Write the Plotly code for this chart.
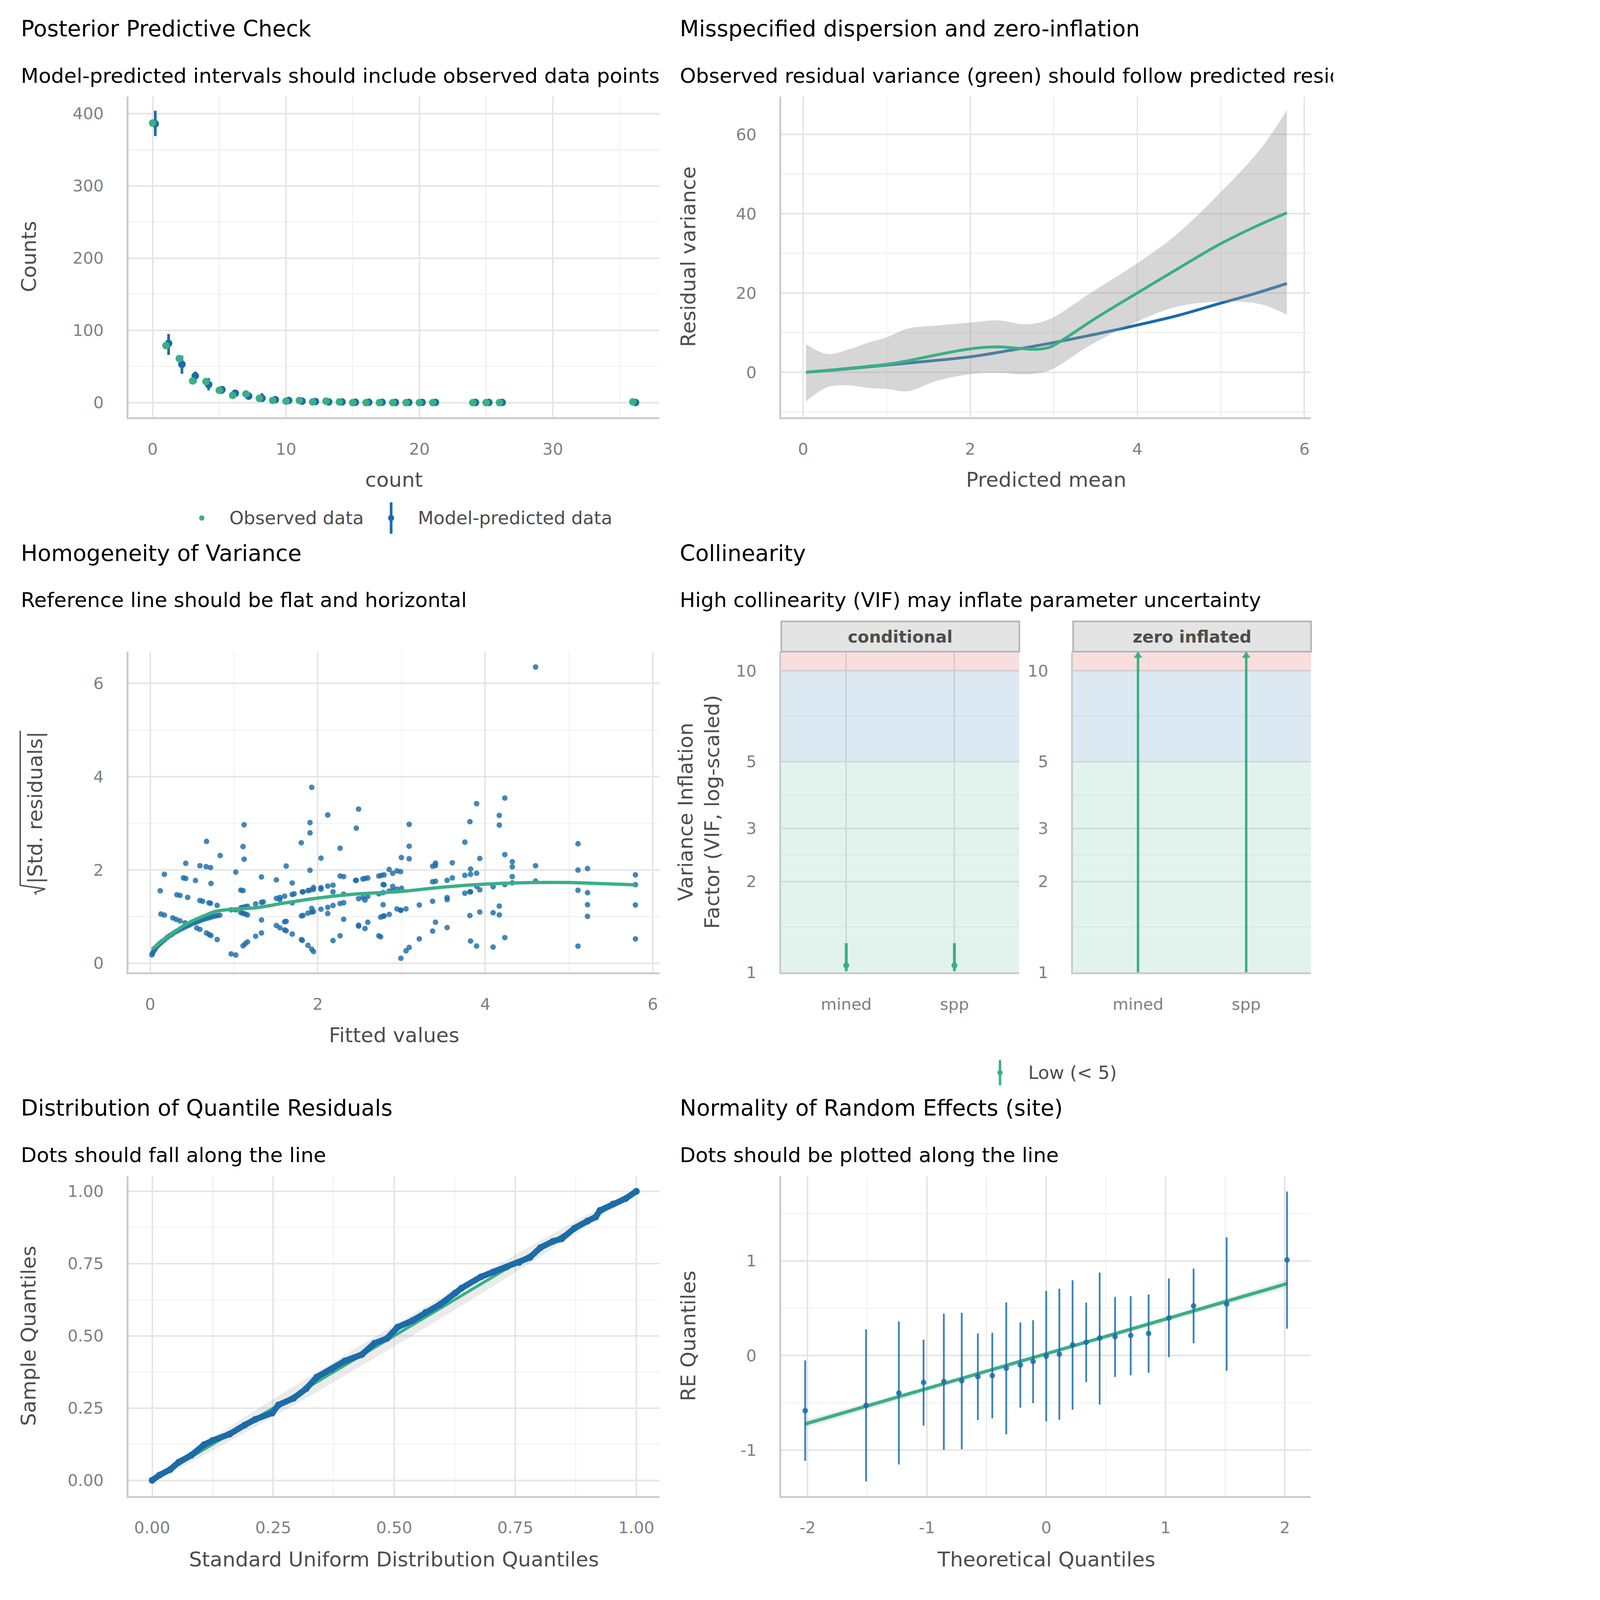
import math
import plotly.graph_objects as go

W, H = 6000, 7200
FONT = "DejaVu Sans"
GREEN = "#3aaf85"
BLUE = "#1b6ca8"

# ---------------- data: posterior predictive check ----------------
count_x = [0, 1, 2, 3, 4, 5, 6, 7, 8, 9, 10, 11, 12, 13, 14, 15, 16, 17, 18, 19, 20, 21, 24, 25, 26, 36]
observed_counts = [387, 79, 61, 30, 29, 17, 10, 12, 6, 3, 2, 3, 1, 2, 1, 0, 0, 0, 0, 0, 0, 0, 0, 0, 0, 1]
predicted_counts = [386, 82, 53, 37, 25, 18, 13, 9, 6, 4, 3, 2, 1.5, 1, 1, 0.5, 0.5, 0.4, 0.3, 0.3, 0.3, 0.3, 0.2, 0.2, 0.2, 0.1]
predicted_lo = [369, 66, 40, 27, 17, 12, 9, 4, 2, 1, 1, 0, 0, 0, 0, 0, 0, 0, 0, 0, 0, 0, 0, 0, 0, 0]
predicted_hi = [404, 95, 65, 43, 34, 22, 16, 13, 13, 7, 5, 4, 3, 3, 2, 1, 1, 1, 1, 1, 1, 1, 1, 1, 1, 1]

# ---------------- data: dispersion ----------------
obs_var_x = [0.035, 0.5, 1.0, 1.2, 1.6, 2.0, 2.32, 2.6, 2.8, 2.95, 3.08, 3.5, 4.0, 4.5, 4.96, 5.4, 5.79]
obs_var_y = [0.0, 0.9, 2.0, 2.66, 4.4, 5.9, 6.4, 6.0, 5.8, 6.3, 7.8, 13.6, 20.0, 26.3, 32.0, 36.6, 40.2]
pred_var_x = [0.035, 0.5, 1.0, 1.5, 2.0, 2.5, 2.93, 3.5, 4.0, 4.5, 4.96, 5.4, 5.79]
pred_var_y = [0.0, 0.8, 1.8, 2.8, 3.9, 5.6, 7.2, 9.6, 11.9, 14.4, 17.2, 19.8, 22.4]
ribbon_x = [0.035, 0.29, 0.54, 0.8, 1.0, 1.25, 1.61, 2.0, 2.32, 2.675, 2.95, 3.44, 4.0, 4.45, 4.96, 5.47, 5.79]
ribbon_hi = [7.1, 4.6, 5.7, 7.6, 8.8, 11.0, 11.8, 12.5, 13.1, 12.1, 13.4, 20.0, 27.5, 34.4, 44.6, 56.2, 66.1]
ribbon_lo = [-7.4, -3.8, -3.3, -4.0, -4.2, -4.8, -2.1, -0.5, -0.1, -0.5, 0.5, 6.9, 12.8, 16.4, 17.8, 17.2, 14.5]

# ---------------- data: homogeneity of variance ----------------
fitted_values = [
    0.02, 0.03, 0.045, 0.06, 0.08, 0.10, 0.12, 0.14, 0.17, 0.20, 0.23, 0.26, 0.29, 0.32, 0.35, 0.38,
    0.41, 0.44, 0.47, 0.50, 0.53, 0.56, 0.59, 0.62, 0.65, 0.68, 0.71, 0.74, 0.77, 0.80, 0.83,
    0.119, 0.169, 0.127, 0.169, 0.269, 0.311, 0.356, 0.318, 0.356, 0.447, 0.396, 0.424, 0.424,
    0.540, 0.593, 0.667, 0.720, 0.672, 0.725, 0.835, 0.593, 0.625, 0.701, 0.720, 0.799, 0.555,
    0.593, 0.672, 0.703, 0.725, 0.799, 0.417,
    0.966, 1.021, 1.021, 0.966, 1.021, 1.121, 1.108, 1.121, 1.081, 1.108, 1.081, 1.106, 1.133,
    1.161, 1.081, 1.106, 1.133, 1.161, 1.108, 1.133, 1.161, 1.258, 1.258, 1.328, 1.328, 1.350,
    1.328, 1.328, 1.506, 1.506, 1.547, 1.547, 1.506, 1.547, 1.604, 1.623, 1.604, 1.623, 1.604,
    1.623, 1.695, 1.695, 1.718, 1.695, 1.695, 1.803, 1.816, 1.824, 1.805, 1.824, 1.805, 1.816,
    1.907, 1.907, 1.928, 1.907, 1.883, 1.907, 1.949, 1.949, 1.928, 1.883, 1.928, 1.949, 1.883,
    1.928, 1.949, 2.038, 2.038, 2.038, 2.038, 2.119, 2.119, 2.119, 2.119, 2.182, 2.182, 2.182,
    2.182, 2.267, 2.267, 2.309, 2.309, 2.267, 2.309, 2.309, 2.267, 2.487, 2.460, 2.451, 2.460,
    2.538, 2.564, 2.597, 2.487, 2.538, 2.564, 2.597, 2.487, 2.487, 2.597, 2.564, 2.729, 2.758,
    2.792, 2.780, 2.792, 2.729, 2.780, 2.780, 2.750, 2.780, 2.792, 2.854, 2.729, 2.750, 2.852,
    2.894, 2.945, 2.894, 2.852, 2.894, 2.945, 2.945, 2.992, 2.992, 2.998, 2.989, 3.091, 3.091,
    3.091, 3.0, 2.989, 3.053, 3.053, 3.091, 3.212, 3.212, 3.371, 3.405, 3.405, 3.371, 3.405,
    3.371, 3.405, 3.371, 3.544, 3.606, 3.606, 3.544, 3.544, 3.544, 3.756, 3.756, 3.756, 3.816,
    3.824, 3.824, 3.816, 3.824, 3.816, 3.824, 3.896, 3.896, 3.896, 3.934, 3.934, 3.934, 3.896,
    4.093, 4.093, 4.093, 4.167, 4.167, 4.233, 4.233, 4.233, 4.167, 4.167, 4.233, 4.322, 4.322,
    4.322, 4.322, 4.600, 4.600, 4.600, 5.106, 5.106, 5.106, 5.106, 5.220, 5.220, 5.220, 5.220,
    5.792, 5.792, 5.792, 5.792,
]
sqrt_std_residuals = [
    0.18, 0.22, 0.27, 0.31, 0.36, 0.40, 0.43, 0.46, 0.50, 0.55, 0.59, 0.62, 0.66, 0.69, 0.72, 0.745,
    0.77, 0.80, 0.82, 0.85, 0.87, 0.89, 0.91, 0.93, 0.95, 0.965, 0.98, 0.995, 1.01, 1.02, 1.03,
    1.554, 1.907, 1.055, 1.032, 0.972, 0.938, 0.908, 1.468, 1.454, 1.411, 1.830, 1.817, 2.143,
    1.774, 2.090, 2.070, 2.050, 2.612, 1.710, 2.309, 1.344, 1.328, 1.295, 1.285, 1.241, 0.755,
    0.725, 0.649, 0.616, 0.592, 0.509, 0.865,
    1.145, 1.145, 1.953, 0.200, 0.176, 2.968, 2.502, 2.230, 1.567, 1.557, 1.188, 1.198, 1.211,
    1.221, 1.085, 1.072, 1.058, 1.035, 0.373, 0.416, 0.456, 1.271, 0.579, 1.850, 1.304, 1.314,
    0.928, 0.649, 1.787, 1.391, 1.411, 1.364, 0.809, 0.759, 1.438, 2.083, 0.889, 0.898, 0.715,
    0.696, 1.720, 1.474, 1.488, 1.295, 0.626, 2.582, 1.531, 1.531, 1.015, 1.025, 0.506, 0.489,
    3.015, 2.795, 3.770, 1.993, 1.557, 1.567, 1.624, 1.581, 1.175, 1.075, 1.095, 1.108, 0.383,
    0.300, 0.250, 2.253, 1.621, 1.587, 1.158, 3.178, 1.654, 1.198, 1.065, 1.674, 1.531, 1.238,
    0.486, 2.466, 1.870, 1.857, 1.481, 1.281, 1.298, 0.942, 0.589, 3.304, 2.895, 1.774, 1.780,
    1.807, 1.817, 1.827, 1.384, 1.408, 1.354, 1.434, 0.815, 0.795, 0.879, 0.745, 1.870, 1.883,
    1.894, 1.687, 1.681, 1.488, 1.514, 1.255, 0.988, 1.008, 1.015, 1.048, 0.589, 0.566, 2.010,
    1.927, 1.980, 1.647, 1.547, 1.554, 1.587, 1.165, 1.135, 0.106, 2.266, 1.963, 2.978, 2.509,
    2.240, 1.607, 1.138, 1.165, 0.266, 0.339, 1.248, 0.522, 2.080, 2.146, 2.093, 1.747, 1.757,
    1.328, 0.879, 0.689, 1.777, 1.830, 2.153, 1.408, 1.364, 0.765, 2.596, 1.884, 1.501, 3.035,
    2.020, 1.907, 1.531, 1.531, 1.022, 0.476, 3.421, 1.930, 1.647, 2.246, 1.574, 1.098, 0.369,
    1.641, 1.082, 0.346, 3.168, 2.962, 3.541, 2.329, 1.687, 1.225, 1.035, 0.549, 2.176, 2.067,
    1.857, 1.724, 2.090, 1.760, 6.350, 2.562, 1.997, 1.564, 0.366, 2.030, 1.511, 1.255, 1.005,
    1.894, 1.684, 1.248, 0.522,
]
loess_x = [0.02, 0.216, 0.428, 0.640, 0.788, 0.958, 1.254, 1.593, 2.0, 2.441, 3.0, 3.485, 4.0, 4.6, 5.0, 5.39, 5.79]
loess_y = [0.30, 0.576, 0.839, 1.015, 1.115, 1.155, 1.188, 1.288, 1.398, 1.481, 1.540, 1.630, 1.697, 1.730, 1.730, 1.707, 1.680]

# ---------------- data: collinearity ----------------
vif_terms = ["mined", "spp"]
cond_vif = [1.055, 1.055]
cond_vif_lo = [1.01, 1.01]
cond_vif_hi = [1.25, 1.25]
zi_vif_lo = [1.0, 1.0]          # upper bounds lie beyond the axis limit (drawn as arrows)
vif_breaks = [1, 2, 3, 5, 10]
vif_minor = [1.414, 2.449, 3.873, 7.071]
vif_zones = [1, 5, 10]          # low / moderate / high thresholds
vif_axis_max = 11.57

# ---------------- data: quantile residuals (uniform QQ) ----------------
unif_theoretical = [0.0, 0.015, 0.037, 0.055, 0.081, 0.107, 0.125, 0.16, 0.191, 0.213, 0.248, 0.261, 0.292,
                    0.318, 0.340, 0.371, 0.398, 0.433, 0.459, 0.485, 0.507, 0.538, 0.565, 0.595, 0.626,
                    0.639, 0.679, 0.705, 0.732, 0.758, 0.780, 0.802, 0.828, 0.846, 0.872, 0.899, 0.916,
                    0.925, 0.952, 0.978, 1.0]
unif_sample = [0.0, 0.018, 0.037, 0.063, 0.087, 0.123, 0.138, 0.160, 0.191, 0.211, 0.233, 0.261, 0.284,
               0.317, 0.357, 0.385, 0.413, 0.435, 0.474, 0.491, 0.530, 0.553, 0.581, 0.609, 0.648,
               0.665, 0.704, 0.721, 0.738, 0.754, 0.771, 0.805, 0.827, 0.836, 0.872, 0.897, 0.911,
               0.934, 0.956, 0.975, 1.0]
unif_band_x = [0.0, 0.1, 0.2, 0.3, 0.4, 0.5, 0.6, 0.7, 0.8, 0.9, 1.0]
unif_band_hi = [0.005, 0.12, 0.228, 0.333, 0.436, 0.537, 0.636, 0.733, 0.828, 0.92, 1.005]
unif_band_lo = [-0.005, 0.08, 0.172, 0.267, 0.364, 0.463, 0.564, 0.667, 0.772, 0.88, 0.995]

# ---------------- data: random effects QQ ----------------
re_theoretical = [-2.02, -1.51, -1.235, -1.028, -0.858, -0.708, -0.573, -0.452, -0.335, -0.217, -0.110, 0.0,
                  0.110, 0.221, 0.335, 0.448, 0.577, 0.708, 0.858, 1.028, 1.235, 1.512, 2.018]
re_quantiles = [-0.582, -0.527, -0.397, -0.284, -0.274, -0.267, -0.223, -0.212, -0.134, -0.099, -0.062, -0.007,
                0.014, 0.113, 0.140, 0.185, 0.199, 0.212, 0.233, 0.397, 0.524, 0.545, 1.010]
re_lo = [-1.113, -1.329, -1.151, -0.740, -0.997, -0.990, -0.682, -0.664, -0.832, -0.551, -0.503, -0.695,
         -0.678, -0.572, -0.281, -0.517, -0.226, -0.209, -0.182, -0.017, 0.130, -0.161, 0.284]
re_hi = [-0.051, 0.277, 0.360, 0.168, 0.442, 0.452, 0.233, 0.240, 0.562, 0.349, 0.373, 0.682,
         0.705, 0.795, 0.558, 0.877, 0.620, 0.627, 0.644, 0.815, 0.918, 1.250, 1.733]
re_line_x = [-2.02, 2.02]
re_line_y = [-0.723, 0.760]
re_band_x = [-2.02, -1.0, 0.0, 1.0, 2.02]
re_band_hi = [-0.678, -0.332, 0.036, 0.404, 0.805]
re_band_lo = [-0.768, -0.382, 0.002, 0.354, 0.715]

# ================= layout helpers =================
def px_x(p):
    return p / W


def px_y(p):
    return 1 - p / H


LEFT = [px_x(578), px_x(2968)]
RIGHT = [px_x(3516), px_x(5900)]
FACET1 = [px_x(3516), px_x(4587)]
FACET2 = [px_x(4829), px_x(5900)]
ROW1 = [px_y(1888), px_y(436)]
ROW2 = [px_y(4402), px_y(2950)]
ROW3 = [px_y(6772), px_y(5325)]


def axis(domain, rng, tickvals, ticktext, minor, anchor, ticklen, **kw):
    d = dict(domain=domain, range=rng, anchor=anchor, tickmode="array", tickvals=tickvals, ticktext=ticktext,
             showgrid=True, gridcolor="#e5e5e5", gridwidth=7, zeroline=False,
             showline=True, linecolor="#cccccc", linewidth=9,
             ticks="outside", ticklen=ticklen, tickcolor="rgba(0,0,0,0)", tickwidth=1,
             tickfont=dict(family=FONT, size=73, color="#808080"),
             minor=dict(tickmode="array", tickvals=minor, showgrid=True, gridcolor="#f0f0f0",
                        gridwidth=4, ticks=""),
             fixedrange=True)
    d.update(kw)
    return d


fig = go.Figure()
NOHOVER = dict(showlegend=False, hoverinfo="skip")

# ---- Panel 1: posterior predictive check
pred_x = [c + 0.2 for c in count_x]
fig.add_trace(go.Scatter(
    x=pred_x, y=predicted_counts, mode="markers", xaxis="x", yaxis="y",
    marker=dict(color=BLUE, size=34),
    error_y=dict(type="data", symmetric=False,
                 array=[h - m for h, m in zip(predicted_hi, predicted_counts)],
                 arrayminus=[m - l for m, l in zip(predicted_counts, predicted_lo)],
                 thickness=12, width=0, color=BLUE), **NOHOVER))
fig.add_trace(go.Scatter(x=count_x, y=observed_counts, mode="markers", xaxis="x", yaxis="y",
                         marker=dict(color=GREEN, size=34), **NOHOVER))

# ---- Panel 2: dispersion
fig.add_trace(go.Scatter(x=pred_var_x, y=pred_var_y, mode="lines", xaxis="x2", yaxis="y2",
                         line=dict(color=BLUE, width=13, shape="spline"), **NOHOVER))
fig.add_trace(go.Scatter(x=ribbon_x, y=ribbon_lo, mode="lines", xaxis="x2", yaxis="y2",
                         line=dict(width=0, shape="spline", color="rgba(0,0,0,0)"), **NOHOVER))
fig.add_trace(go.Scatter(x=ribbon_x, y=ribbon_hi, mode="lines", xaxis="x2", yaxis="y2",
                         fill="tonexty", fillcolor="rgba(153,153,153,0.4)",
                         line=dict(width=0, shape="spline", color="rgba(0,0,0,0)"), **NOHOVER))
fig.add_trace(go.Scatter(x=obs_var_x, y=obs_var_y, mode="lines", xaxis="x2", yaxis="y2",
                         line=dict(color=GREEN, width=13, shape="spline"), **NOHOVER))

# ---- Panel 3: homogeneity
fig.add_trace(go.Scatter(x=fitted_values, y=sqrt_std_residuals, mode="markers", xaxis="x3", yaxis="y3",
                         marker=dict(color=BLUE, size=25, opacity=0.82, line=dict(width=0)), **NOHOVER))
fig.add_trace(go.Scatter(x=loess_x, y=loess_y, mode="lines", xaxis="x3", yaxis="y3",
                         line=dict(color=GREEN, width=15, shape="spline"), **NOHOVER))

# ---- Panels 4/5: collinearity
term_pos = list(range(len(vif_terms)))
xr = [-0.6, len(vif_terms) - 0.4]
zone_bounds = vif_zones + [vif_axis_max]
zone_colors = ["rgba(58,175,133,0.15)", "rgba(27,108,168,0.15)", "rgba(205,32,31,0.15)"]
for xa, ya in (("x4", "y4"), ("x5", "y5")):
    for i, col in enumerate(zone_colors):
        lo, hi = zone_bounds[i], zone_bounds[i + 1]
        fig.add_trace(go.Scatter(x=[xr[0], xr[1], xr[1], xr[0], xr[0]], y=[lo, lo, hi, hi, lo],
                                 mode="lines", fill="toself", fillcolor=col, line=dict(width=0),
                                 xaxis=xa, yaxis=ya, **NOHOVER))
fig.add_trace(go.Scatter(
    x=term_pos, y=cond_vif, mode="markers", xaxis="x4", yaxis="y4",
    marker=dict(color=GREEN, size=27),
    error_y=dict(type="data", symmetric=False,
                 array=[h - v for h, v in zip(cond_vif_hi, cond_vif)],
                 arrayminus=[v - l for v, l in zip(cond_vif, cond_vif_lo)],
                 thickness=13, width=0, color=GREEN), **NOHOVER))
log_top = math.log10(vif_axis_max)
for p, lo in zip(term_pos, zi_vif_lo):
    fig.add_trace(go.Scatter(x=[p, p], y=[lo, vif_axis_max], mode="lines", xaxis="x5", yaxis="y5",
                             line=dict(color=GREEN, width=11), **NOHOVER))
fig.add_trace(go.Scatter(x=term_pos, y=[10 ** (log_top - 0.014)] * len(term_pos), mode="markers",
                         xaxis="x5", yaxis="y5", marker=dict(symbol="triangle-up", color=GREEN, size=34),
                         **NOHOVER))

# ---- Panel 6: uniform QQ
fig.add_trace(go.Scatter(x=unif_band_x + unif_band_x[::-1], y=unif_band_hi + unif_band_lo[::-1],
                         mode="lines", fill="toself", fillcolor="rgba(153,153,153,0.2)", line=dict(width=0),
                         xaxis="x6", yaxis="y6", **NOHOVER))
fig.add_trace(go.Scatter(x=[0, 1], y=[0, 1], mode="lines", xaxis="x6", yaxis="y6",
                         line=dict(color=GREEN, width=13), **NOHOVER))
fig.add_trace(go.Scatter(x=unif_theoretical, y=unif_sample, mode="lines+markers", xaxis="x6", yaxis="y6",
                         line=dict(color=BLUE, width=27), marker=dict(color=BLUE, size=31), **NOHOVER))

# ---- Panel 7: random effects QQ
fig.add_trace(go.Scatter(x=re_band_x + re_band_x[::-1], y=re_band_hi + re_band_lo[::-1],
                         mode="lines", fill="toself", fillcolor="rgba(153,153,153,0.2)", line=dict(width=0),
                         xaxis="x7", yaxis="y7", **NOHOVER))
fig.add_trace(go.Scatter(x=re_line_x, y=re_line_y, mode="lines", xaxis="x7", yaxis="y7",
                         line=dict(color=GREEN, width=15), **NOHOVER))
fig.add_trace(go.Scatter(
    x=re_theoretical, y=re_quantiles, mode="markers", xaxis="x7", yaxis="y7",
    marker=dict(color=BLUE, size=25, opacity=0.85),
    error_y=dict(type="data", symmetric=False,
                 array=[h - q for h, q in zip(re_hi, re_quantiles)],
                 arrayminus=[q - l for q, l in zip(re_quantiles, re_lo)],
                 thickness=8, width=0, color="rgba(27,108,168,0.85)"), **NOHOVER))

# ================= axes =================
YL = 88
XL = 72
fig.update_layout(
    xaxis=axis(LEFT, [-1.81, 38.0], [0, 10, 20, 30], ["0", "10", "20", "30"], [5, 15, 25, 35], "y", XL),
    yaxis=axis(ROW1, [-20, 424], [0, 100, 200, 300, 400], ["0", "100", "200", "300", "400"],
               [50, 150, 250, 350], "x", YL),
    xaxis2=axis(RIGHT, [-0.26, 6.08], [0, 2, 4, 6], ["0", "2", "4", "6"], [1, 3, 5], "y2", XL),
    yaxis2=axis(ROW1, [-11.3, 69.6], [0, 20, 40, 60], ["0", "20", "40", "60"], [-10, 10, 30, 50], "x2", YL),
    xaxis3=axis(LEFT, [-0.26, 6.08], [0, 2, 4, 6], ["0", "2", "4", "6"], [1, 3, 5], "y3", XL),
    yaxis3=axis(ROW2, [-0.196, 6.68], [0, 2, 4, 6], ["0", "2", "4", "6"], [1, 3, 5], "x3", YL),
    xaxis4=axis(FACET1, xr, term_pos, vif_terms, [], "y4", XL),
    yaxis4=axis(ROW2, [0, log_top], vif_breaks, [str(b) for b in vif_breaks], vif_minor, "x4", YL, type="log"),
    xaxis5=axis(FACET2, xr, term_pos, vif_terms, [], "y5", XL),
    yaxis5=axis(ROW2, [0, log_top], vif_breaks, [str(b) for b in vif_breaks], vif_minor, "x5", YL, type="log"),
    xaxis6=axis(LEFT, [-0.049, 1.048], [0, 0.25, 0.5, 0.75, 1.0], ["0.00", "0.25", "0.50", "0.75", "1.00"],
                [0.125, 0.375, 0.625, 0.875], "y6", XL),
    yaxis6=axis(ROW3, [-0.054, 1.052], [0, 0.25, 0.5, 0.75, 1.0], ["0.00", "0.25", "0.50", "0.75", "1.00"],
                [0.125, 0.375, 0.625, 0.875], "x6", YL),
    xaxis7=axis(RIGHT, [-2.22, 2.22], [-2, -1, 0, 1, 2], ["-2", "-1", "0", "1", "2"],
                [-1.5, -0.5, 0.5, 1.5], "y7", XL),
    yaxis7=axis(ROW3, [-1.483, 1.894], [-1, 0, 1], ["-1", "0", "1"], [-0.5, 0.5, 1.5], "x7", YL),
)

# ================= text =================
ann = []
shapes = []


def text(s, xp, yp, size, color="#000000", xanchor="left", angle=0):
    ann.append(dict(text=s, x=px_x(xp), y=px_y(yp), xref="paper", yref="paper",
                    xanchor=xanchor, yanchor="middle", showarrow=False, textangle=angle,
                    font=dict(family=FONT, size=size, color=color)))


TITLE, SUB, AXT = 100, 92, 92
text("Posterior Predictive Check", 92, 129, TITLE)
text("Model-predicted intervals should include observed data points", 92, 344, SUB)
text("Misspecified dispersion and zero-inflation", 3057, 129, TITLE)
text("Observed residual variance (green) should follow predicted residual variance (blue)", 3057, 344, SUB)
text("Homogeneity of Variance", 92, 2504, TITLE)
text("Reference line should be flat and horizontal", 92, 2716, SUB)
text("Collinearity", 3057, 2504, TITLE)
text("High collinearity (VIF) may inflate parameter uncertainty", 3057, 2716, SUB)
text("Distribution of Quantile Residuals", 92, 5015, TITLE)
text("Dots should fall along the line", 92, 5230, SUB)
text("Normality of Random Effects (site)", 3057, 5015, TITLE)
text("Dots should be plotted along the line", 3057, 5230, SUB)

GREY30 = "#4d4d4d"
text("Counts", 129, 1162, AXT, GREY30, "center", -90)
text("count", 1773, 2172, AXT, GREY30, "center")
text("Residual variance", 3097, 1162, AXT, GREY30, "center", -90)
text("Predicted mean", 4708, 2172, AXT, GREY30, "center")
# sqrt(|Std. residuals|): text plus a drawn radical sign with its overline
text("|Std. residuals|", 158, 3656, AXT, GREY30, "center", -90)
rad = [(91, 3308), (91, 4008), (203, 4024), (157, 4040), (163, 4050)]
shapes.append(dict(type="path", xref="paper", yref="paper",
                   path="M " + " L ".join("%.6f,%.6f" % (px_x(a), px_y(b)) for a, b in rad),
                   line=dict(color=GREY30, width=6)))
text("Fitted values", 1773, 4686, AXT, GREY30, "center")
text("Variance Inflation<br>Factor (VIF, log-scaled)", 3145, 3676, AXT, GREY30, "center", -90)
text("Sample Quantiles", 129, 6048, AXT, GREY30, "center", -90)
text("Standard Uniform Distribution Quantiles", 1773, 7059, AXT, GREY30, "center")
text("RE Quantiles", 3097, 6048, AXT, GREY30, "center", -90)
text("Theoretical Quantiles", 4708, 7059, AXT, GREY30, "center")

# facet strips
for dom, lab in ((FACET1, "conditional"), (FACET2, "zero inflated")):
    shapes.append(dict(type="rect", xref="paper", yref="paper", x0=dom[0], x1=dom[1],
                       y0=px_y(2950), y1=px_y(2813), fillcolor="#e4e4e4",
                       line=dict(color="#b3b3b3", width=7), layer="above"))
    ann.append(dict(text="<b>%s</b>" % lab, x=(dom[0] + dom[1]) / 2, y=px_y(2882), xref="paper", yref="paper",
                    xanchor="center", yanchor="middle", showarrow=False,
                    font=dict(family=FONT, size=75, color=GREY30)))

# legends
LEG = 82


def dot(cx, cy, d, color):
    shapes.append(dict(type="circle", xref="paper", yref="paper", x0=px_x(cx - d / 2), x1=px_x(cx + d / 2),
                       y0=px_y(cy + d / 2), y1=px_y(cy - d / 2), fillcolor=color, line=dict(width=0)))


def vline(cx, y0, y1, w, color):
    shapes.append(dict(type="line", xref="paper", yref="paper", x0=px_x(cx), x1=px_x(cx),
                       y0=px_y(y0), y1=px_y(y1), line=dict(color=color, width=w)))


dot(908, 2345, 24, GREEN)
text("Observed data", 1030, 2345, LEG, GREY30)
vline(1760, 2274, 2416, 12, BLUE)
dot(1760, 2345, 28, BLUE)
text("Model-predicted data", 1878, 2345, LEG, GREY30)

vline(4500, 4799, 4913, 11, GREEN)
dot(4500, 4856, 24, GREEN)
text("Low (< 5)", 4625, 4856, LEG, GREY30)

fig.update_layout(
    width=W, height=H, margin=dict(l=0, r=0, t=0, b=0),
    paper_bgcolor="white", plot_bgcolor="white",
    annotations=ann, shapes=shapes, showlegend=False,
    font=dict(family=FONT),
)

# the browser viewport may be smaller than the figure: scale the page to fit it
fit_script = """
(function(){
  document.documentElement.style.overflow = 'hidden';
  document.body.style.overflow = 'hidden';
  document.body.style.margin = '0';
  var s = Math.min(window.innerWidth / %d, window.innerHeight / %d);
  if (s < 1) { document.body.style.zoom = s; }
})();
""" % (W, H)

fig.write_html("out.html", post_script=fit_script, config={"displayModeBar": False})
